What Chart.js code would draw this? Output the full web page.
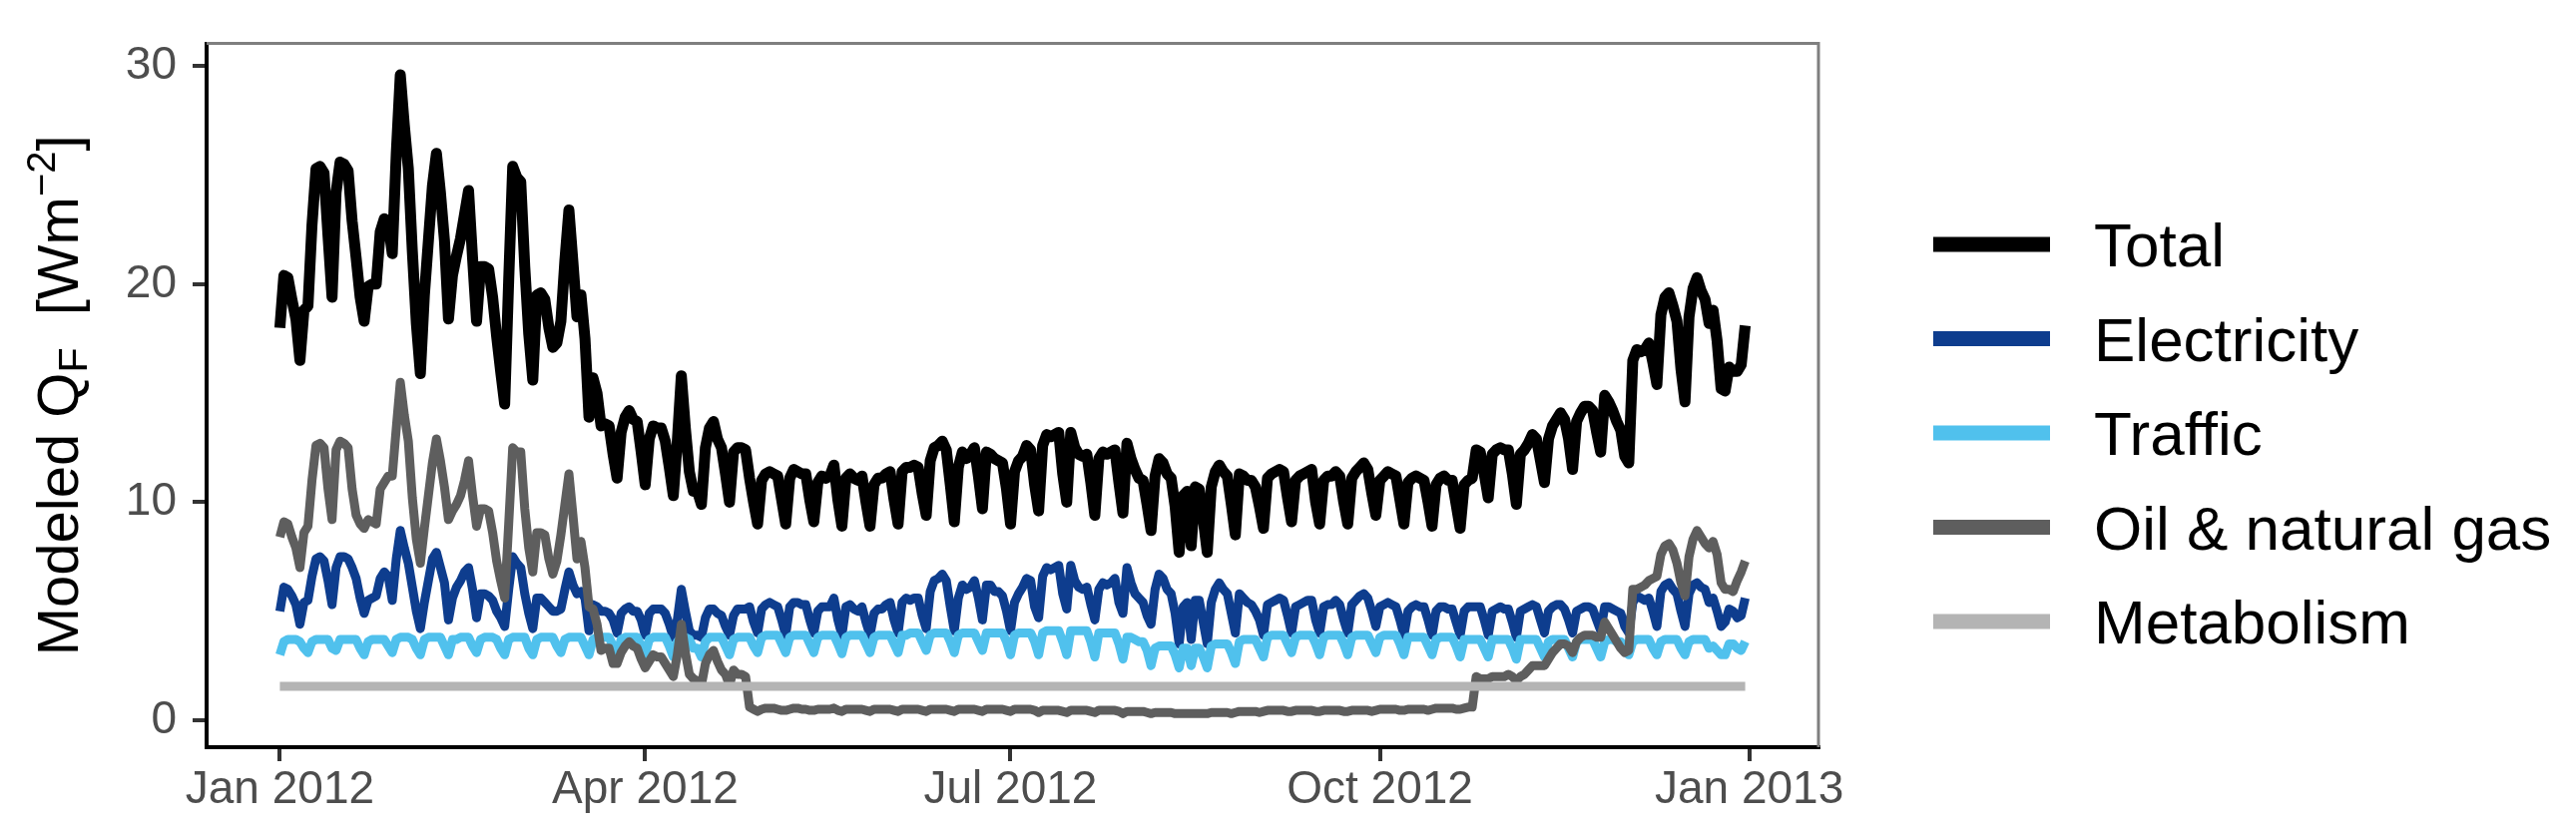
<!DOCTYPE html>
<html>
<head>
<meta charset="utf-8">
<script src="https://cdn.jsdelivr.net/npm/chart.js@4.4.1/dist/chart.umd.min.js"></script>
<style>
  html, body { margin: 0; padding: 0; background: #fff; }
  #wrap { width: 2581px; height: 833px; }
</style>
</head>
<body>
<div id="wrap"><canvas id="qf" width="2581" height="833"></canvas></div>
<script>
// modeled anthropogenic heat flux, one value per day from Sun 1 Jan 2012 (day 0) to Mon 31 Dec 2012 (day 365)
const total = [
  18.0, 20.4, 20.3, 19.3, 18.4, 16.5, 18.8,
  19.0, 22.7, 25.3, 25.4, 25.1, 22.2, 19.4,
  24.2, 25.6, 25.5, 25.2, 22.9, 21.2, 19.4,
  18.3, 19.9, 20.0, 20.0, 22.4, 23.0, 22.8,
  21.4, 26.0, 29.6, 27.3, 25.3, 21.5, 18.2,
  15.9, 19.5, 22.0, 24.5, 26.0, 24.2, 22.0,
  18.4, 20.4, 21.3, 22.1, 23.2, 24.3, 21.2,
  18.3, 20.8, 20.8, 20.7, 19.4, 17.6, 16.0,
  14.5, 20.2, 25.4, 24.9, 24.7, 20.8, 17.7,
  15.6, 19.5, 19.6, 19.3, 18.0, 17.1, 17.3,
  18.3, 21.1, 23.4, 21.0, 18.5, 19.5, 17.5,
  13.9, 15.7, 15.0, 13.5, 13.6, 13.5, 12.2,
  11.1, 13.2, 13.9, 14.2, 13.8, 13.7, 12.3,
  10.8, 12.9, 13.5, 13.4, 13.4, 12.8, 11.6,
  10.3, 12.8, 15.8, 13.4, 11.4, 10.5, 10.5,
  9.9, 12.5, 13.4, 13.7, 12.9, 12.5, 11.3,
  10.0, 12.3, 12.5, 12.5, 12.4, 11.1, 10.0,
  9.0, 11.0, 11.3, 11.4, 11.3, 11.2, 10.1,
  9.0, 11.1, 11.5, 11.4, 11.3, 11.3, 10.1,
  9.1, 10.9, 11.2, 11.1, 11.2, 11.7, 10.1,
  8.9, 11.1, 11.3, 11.1, 11.0, 11.2, 10.0,
  8.9, 10.8, 11.1, 11.1, 11.3, 11.4, 10.1,
  9.0, 11.4, 11.6, 11.6, 11.7, 11.6, 10.4,
  9.4, 11.9, 12.5, 12.6, 12.8, 12.4, 10.8,
  9.1, 11.6, 12.3, 12.0, 12.2, 12.5, 11.2,
  9.7, 12.3, 12.2, 12.0, 11.9, 11.8, 10.6,
  9.0, 11.4, 11.9, 12.1, 12.6, 12.4, 10.8,
  9.6, 12.6, 13.1, 13.0, 13.1, 13.2, 11.3,
  10.0, 13.2, 12.5, 12.2, 12.1, 12.2, 10.9,
  9.4, 12.0, 12.3, 12.2, 12.3, 12.4, 10.9,
  9.5, 12.7, 12.0, 11.5, 11.1, 11.0, 9.9,
  8.7, 11.2, 12.0, 11.8, 11.3, 11.1, 9.8,
  7.7, 10.3, 10.5, 8.0, 10.7, 10.6, 9.2,
  7.7, 10.7, 11.4, 11.7, 11.4, 11.2, 9.9,
  8.5, 11.3, 11.2, 11.0, 11.0, 10.7, 9.8,
  8.8, 11.1, 11.3, 11.4, 11.5, 11.4, 10.2,
  9.1, 11.0, 11.2, 11.3, 11.4, 11.5, 10.0,
  9.0, 11.0, 11.2, 11.2, 11.4, 11.2, 10.0,
  9.0, 11.1, 11.4, 11.6, 11.8, 11.5, 10.4,
  9.4, 11.0, 11.2, 11.4, 11.3, 11.2, 10.1,
  9.0, 10.9, 11.1, 11.2, 11.1, 11.0, 10.0,
  8.9, 10.8, 11.1, 11.2, 11.0, 11.0, 9.9,
  8.8, 10.8, 11.0, 11.1, 12.4, 12.3, 11.3,
  10.2, 12.2, 12.4, 12.5, 12.4, 12.4, 11.3,
  9.9, 12.2, 12.4, 12.7, 13.1, 12.9, 11.9,
  10.9, 12.9, 13.5, 13.8, 14.1, 13.8, 12.9,
  11.5, 13.7, 14.1, 14.4, 14.4, 14.2, 13.2,
  12.3, 14.9, 14.6, 14.2, 13.7, 13.3, 12.1,
  11.8, 16.5, 17.0, 16.9, 17.0, 17.3, 16.4,
  15.4, 18.6, 19.4, 19.6, 19.0, 18.3, 16.1,
  14.6, 18.5, 19.8, 20.3, 19.7, 19.3, 18.2,
  18.8, 17.4, 15.2, 15.1, 16.2, 16.0, 16.0,
  16.3, 18.1
];

const electricity = [
  5.0, 6.1, 6.0, 5.7, 5.3, 4.4, 5.4,
  5.5, 6.6, 7.4, 7.5, 7.3, 6.4, 5.3,
  7.0, 7.5, 7.5, 7.4, 7.0, 6.5, 5.6,
  4.9, 5.5, 5.6, 5.7, 6.5, 6.8, 6.6,
  5.5, 7.4, 8.7, 7.9, 7.2, 6.1, 5.0,
  4.2, 5.4, 6.4, 7.4, 7.7, 7.0, 6.3,
  4.6, 5.6, 6.1, 6.4, 6.8, 7.0, 6.0,
  4.7, 5.8, 5.8, 5.7, 5.5, 5.0, 4.7,
  4.3, 6.0, 7.5, 7.2, 7.0, 5.8, 4.9,
  4.2, 5.6, 5.6, 5.4, 5.2, 5.0, 5.0,
  5.1, 6.0, 6.8, 6.2, 5.8, 5.9, 5.6,
  4.1, 5.3, 5.2, 5.0, 5.0, 4.9, 4.6,
  4.0, 4.9, 5.1, 5.2, 5.0, 5.0, 4.6,
  3.9, 4.9, 5.1, 5.1, 5.1, 4.9, 4.4,
  3.8, 4.6, 6.0, 5.0, 4.1, 3.9, 3.9,
  3.8, 4.7, 5.1, 5.1, 4.9, 4.8, 4.3,
  3.9, 4.8, 5.1, 5.1, 5.1, 5.2, 4.5,
  4.0, 5.1, 5.3, 5.4, 5.3, 5.2, 4.6,
  3.9, 5.2, 5.4, 5.4, 5.3, 5.3, 4.6,
  4.0, 5.0, 5.2, 5.2, 5.2, 5.6, 4.6,
  3.9, 5.2, 5.3, 5.1, 5.0, 5.2, 4.5,
  3.9, 4.9, 5.1, 5.1, 5.3, 5.4, 4.6,
  4.0, 5.4, 5.6, 5.5, 5.6, 5.6, 4.8,
  4.2, 5.9, 6.4, 6.5, 6.7, 6.4, 5.2,
  4.1, 5.6, 6.2, 6.0, 6.1, 6.4, 5.6,
  4.6, 6.2, 6.2, 5.9, 5.9, 5.7, 5.0,
  4.1, 5.4, 5.8, 6.1, 6.5, 6.4, 5.2,
  4.7, 6.6, 7.0, 6.9, 7.0, 7.1, 5.8,
  5.1, 7.1, 6.4, 6.1, 6.0, 6.1, 5.3,
  4.6, 6.0, 6.3, 6.2, 6.3, 6.5, 5.4,
  4.9, 7.0, 6.3, 5.8, 5.6, 5.4, 4.8,
  4.4, 6.0, 6.7, 6.5, 6.0, 5.8, 4.9,
  3.5, 5.2, 5.4, 3.7, 5.5, 5.5, 4.5,
  3.5, 5.4, 6.0, 6.3, 6.0, 5.8, 4.9,
  4.0, 5.8, 5.6, 5.4, 5.3, 5.0, 4.6,
  3.9, 5.3, 5.4, 5.5, 5.6, 5.5, 4.8,
  4.0, 5.2, 5.3, 5.4, 5.5, 5.5, 4.6,
  4.0, 5.2, 5.3, 5.3, 5.5, 5.3, 4.6,
  4.0, 5.3, 5.5, 5.7, 5.8, 5.6, 5.0,
  4.3, 5.2, 5.3, 5.4, 5.3, 5.2, 4.6,
  3.9, 5.0, 5.2, 5.3, 5.2, 5.2, 4.6,
  3.9, 5.0, 5.2, 5.2, 5.1, 5.1, 4.5,
  3.9, 5.0, 5.2, 5.2, 5.2, 5.2, 4.6,
  3.9, 5.0, 5.1, 5.2, 5.1, 5.1, 4.5,
  3.8, 5.0, 5.1, 5.2, 5.3, 5.2, 4.6,
  4.0, 5.0, 5.2, 5.3, 5.3, 5.1, 4.6,
  4.0, 5.0, 5.1, 5.2, 5.2, 5.1, 4.6,
  4.1, 5.2, 5.2, 5.1, 5.0, 4.9, 4.3,
  4.0, 5.4, 5.7, 5.6, 5.5, 5.6, 5.0,
  4.3, 5.9, 6.2, 6.3, 6.0, 5.8, 5.0,
  4.3, 5.8, 6.2, 6.3, 6.1, 6.0, 5.4,
  5.6, 5.0, 4.3, 4.5, 5.1, 5.0, 4.7,
  4.8, 5.6
];

const traffic = [
  3.0, 3.6, 3.7, 3.7, 3.7, 3.6, 3.3,
  3.1, 3.6, 3.7, 3.7, 3.7, 3.7, 3.3,
  3.2, 3.7, 3.7, 3.7, 3.7, 3.7, 3.3,
  3.0, 3.6, 3.7, 3.7, 3.7, 3.7, 3.4,
  3.1, 3.7, 3.8, 3.8, 3.8, 3.7, 3.3,
  3.0, 3.7, 3.8, 3.8, 3.8, 3.8, 3.4,
  3.0, 3.7, 3.7, 3.8, 3.8, 3.8, 3.4,
  3.1, 3.7, 3.8, 3.8, 3.8, 3.7, 3.3,
  3.0, 3.7, 3.8, 3.8, 3.8, 3.8, 3.3,
  3.0, 3.7, 3.8, 3.8, 3.8, 3.8, 3.4,
  3.1, 3.7, 3.8, 3.8, 3.8, 3.8, 3.4,
  3.0, 3.7, 3.8, 3.8, 3.8, 3.8, 3.4,
  3.0, 3.7, 3.8, 3.8, 3.8, 3.8, 3.4,
  3.0, 3.7, 3.8, 3.8, 3.8, 3.8, 3.4,
  2.9, 3.6, 3.8, 3.8, 3.7, 3.3, 3.3,
  2.9, 3.6, 3.8, 3.8, 3.8, 3.8, 3.4,
  3.0, 3.7, 3.8, 3.8, 3.8, 3.8, 3.4,
  3.1, 3.8, 3.9, 3.9, 3.9, 3.9, 3.5,
  3.1, 3.8, 3.9, 3.9, 3.9, 3.9, 3.5,
  3.1, 3.8, 3.9, 3.9, 3.9, 3.9, 3.5,
  3.05, 3.8, 3.9, 3.9, 3.9, 3.9, 3.5,
  3.1, 3.8, 3.9, 3.9, 3.9, 3.9, 3.5,
  3.1, 3.9, 3.9, 4.0, 4.0, 4.0, 3.6,
  3.2, 3.9, 4.0, 4.0, 4.0, 4.0, 3.6,
  3.1, 3.9, 4.0, 4.0, 4.0, 4.0, 3.6,
  3.2, 4.0, 4.0, 4.0, 4.0, 4.0, 3.6,
  3.0, 3.9, 4.0, 4.0, 4.0, 4.0, 3.6,
  3.0, 4.0, 4.1, 4.1, 4.1, 4.1, 3.6,
  3.0, 4.1, 4.1, 4.1, 4.1, 4.1, 3.6,
  2.9, 4.0, 4.0, 4.0, 4.0, 4.0, 3.5,
  2.8, 3.8, 3.8, 3.7, 3.6, 3.6, 3.2,
  2.5, 3.3, 3.4, 3.4, 3.4, 3.4, 3.0,
  2.4, 3.3, 3.3, 2.5, 3.3, 3.3, 2.9,
  2.4, 3.4, 3.5, 3.5, 3.5, 3.5, 3.1,
  2.6, 3.6, 3.7, 3.7, 3.7, 3.7, 3.3,
  2.9, 3.8, 3.9, 3.9, 3.9, 3.9, 3.5,
  3.1, 3.8, 3.9, 3.9, 3.9, 3.9, 3.5,
  3.0, 3.8, 3.9, 3.9, 3.9, 3.9, 3.5,
  3.0, 3.8, 3.9, 3.9, 3.9, 3.9, 3.5,
  3.1, 3.8, 3.9, 3.9, 3.9, 3.9, 3.5,
  3.0, 3.8, 3.8, 3.8, 3.8, 3.8, 3.4,
  3.0, 3.7, 3.8, 3.8, 3.8, 3.8, 3.4,
  2.9, 3.7, 3.7, 3.7, 3.7, 3.7, 3.3,
  2.9, 3.7, 3.7, 3.7, 3.7, 3.7, 3.3,
  2.8, 3.7, 3.7, 3.7, 3.7, 3.7, 3.3,
  2.9, 3.6, 3.7, 3.7, 3.7, 3.7, 3.3,
  2.9, 3.6, 3.7, 3.7, 3.7, 3.7, 3.3,
  2.9, 3.6, 3.7, 3.7, 3.6, 3.6, 3.2,
  3.0, 3.6, 3.7, 3.7, 3.7, 3.7, 3.3,
  3.0, 3.6, 3.7, 3.7, 3.7, 3.7, 3.3,
  3.0, 3.6, 3.7, 3.7, 3.7, 3.7, 3.3,
  3.4, 3.2, 3.0, 3.0, 3.5, 3.5, 3.3,
  3.2, 3.6
];

const oilGas = [
  8.4, 9.1, 9.0, 8.4, 7.9, 7.0, 8.6,
  8.9, 11.0, 12.6, 12.7, 12.5, 10.6, 9.2,
  12.4, 12.8, 12.7, 12.5, 10.6, 9.4, 9.0,
  8.8, 9.2, 9.1, 9.0, 10.6, 10.9, 11.2,
  11.2, 13.4, 15.5, 14.0, 12.8, 10.2, 8.3,
  7.2, 8.8, 10.3, 11.8, 12.9, 11.9, 10.7,
  9.2, 9.6, 9.9, 10.3, 11.0, 11.9, 10.3,
  8.9, 9.7, 9.7, 9.6, 8.6, 7.3, 6.4,
  5.6, 9.0, 12.5, 12.3, 12.3, 9.7, 7.9,
  6.8, 8.6, 8.6, 8.5, 7.4, 6.7, 7.3,
  8.5, 9.9, 11.3, 9.4, 7.4, 8.2, 7.0,
  5.2, 5.1, 4.4, 3.2, 3.3, 3.3, 2.6,
  2.6, 3.1, 3.4, 3.6, 3.4, 3.3, 2.8,
  2.4, 2.7, 3.0, 2.9, 2.9, 2.6, 2.3,
  2.0, 3.0, 4.4, 3.1, 2.1, 1.9, 1.8,
  1.6, 2.6, 3.0, 3.2, 2.7, 2.3, 2.1,
  1.6, 2.3, 2.1, 2.1, 2.0, 0.6, 0.5,
  0.4, 0.5, 0.55, 0.55, 0.55, 0.5, 0.45,
  0.45, 0.5, 0.55, 0.55, 0.5, 0.5, 0.45,
  0.45, 0.5, 0.5, 0.5, 0.5, 0.55, 0.45,
  0.4, 0.5, 0.5, 0.5, 0.5, 0.5, 0.45,
  0.4, 0.5, 0.5, 0.5, 0.5, 0.5, 0.45,
  0.4, 0.5, 0.5, 0.5, 0.5, 0.5, 0.45,
  0.4, 0.5, 0.5, 0.5, 0.5, 0.5, 0.45,
  0.4, 0.5, 0.5, 0.5, 0.5, 0.5, 0.45,
  0.4, 0.5, 0.5, 0.5, 0.5, 0.5, 0.45,
  0.4, 0.5, 0.5, 0.5, 0.5, 0.5, 0.45,
  0.35, 0.45, 0.45, 0.45, 0.45, 0.45, 0.4,
  0.35, 0.45, 0.45, 0.45, 0.45, 0.45, 0.4,
  0.35, 0.45, 0.45, 0.45, 0.45, 0.45, 0.4,
  0.3, 0.4, 0.4, 0.4, 0.4, 0.4, 0.35,
  0.3, 0.35, 0.35, 0.35, 0.35, 0.35, 0.3,
  0.3, 0.3, 0.3, 0.3, 0.3, 0.3, 0.3,
  0.3, 0.35, 0.35, 0.35, 0.35, 0.35, 0.3,
  0.35, 0.4, 0.4, 0.4, 0.4, 0.4, 0.35,
  0.4, 0.45, 0.45, 0.45, 0.45, 0.45, 0.4,
  0.4, 0.45, 0.45, 0.45, 0.45, 0.45, 0.4,
  0.4, 0.45, 0.45, 0.45, 0.45, 0.45, 0.4,
  0.4, 0.45, 0.45, 0.45, 0.45, 0.45, 0.4,
  0.45, 0.5, 0.5, 0.5, 0.5, 0.5, 0.45,
  0.45, 0.5, 0.5, 0.5, 0.5, 0.5, 0.45,
  0.5, 0.55, 0.55, 0.55, 0.55, 0.55, 0.5,
  0.5, 0.55, 0.6, 0.6, 2.0, 1.9, 1.9,
  1.9, 2.0, 2.0, 2.0, 2.0, 2.1, 2.0,
  1.8, 2.0, 2.1, 2.3, 2.5, 2.5, 2.5,
  2.5, 2.8, 3.1, 3.3, 3.5, 3.5, 3.4,
  3.1, 3.6, 3.8, 3.9, 3.9, 3.9, 3.8,
  3.8, 4.5, 4.2, 3.9, 3.6, 3.3, 3.1,
  3.2, 6.0, 6.0, 6.1, 6.2, 6.4, 6.5,
  6.6, 7.6, 8.0, 8.1, 7.8, 7.2, 6.3,
  5.7, 7.5, 8.3, 8.7, 8.4, 8.1, 7.9,
  8.2, 7.6, 6.3, 6.0, 6.0, 5.9, 6.4,
  6.8, 7.3
];

// metabolism is flat over the whole year
const metabolismDays = [0, 365];
const metabolism = [1.55, 1.55];

const seriesNames = ['Total', 'Electricity', 'Traffic', 'Oil & natural gas', 'Metabolism'];
const xTickDays = [0, 91, 182, 274, 366];
const xTickLabels = ['Jan 2012', 'Apr 2012', 'Jul 2012', 'Oct 2012', 'Jan 2013'];
const yTicks = [0, 10, 20, 30];

const FONT = '"Liberation Sans", Arial, Helvetica, sans-serif';
const colors = ['#000000', '#0e3d8e', '#50c1ed', '#5e5e5e', '#b4b4b4'];
const widths = [11, 9, 9, 9, 9];

const daily = arr => arr.map((v, i) => ({ x: i, y: v }));

// y title with subscript and superscript: Modeled Q_F  [Wm^-2]
const yTitle = {
  id: 'yTitle',
  afterDraw(chart) {
    const { ctx, chartArea } = chart;
    const parts = [
      { t: 'Modeled Q', s: 58, dy: 0 },
      { t: 'F', s: 41, dy: 9 },
      { t: '  [Wm', s: 58, dy: 0 },
      { t: '\u22122', s: 40, dy: -23 },
      { t: ']', s: 58, dy: 0 }
    ];
    ctx.save();
    let w = 0;
    parts.forEach(p => { ctx.font = p.s + 'px ' + FONT; p.w = ctx.measureText(p.t).width; w += p.w; });
    ctx.translate(78, (chartArea.top + chartArea.bottom) / 2);
    ctx.rotate(-Math.PI / 2);
    ctx.fillStyle = '#000';
    ctx.textBaseline = 'alphabetic';
    let x = -w / 2;
    parts.forEach(p => {
      ctx.font = p.s + 'px ' + FONT;
      ctx.fillText(p.t, x, p.dy);
      x += p.w;
    });
    ctx.restore();
  }
};

// grey panel border on top and right side
const panelBorder = {
  id: 'panelBorder',
  beforeDatasetsDraw(chart) {
    const { ctx, chartArea: a } = chart;
    ctx.save();
    ctx.strokeStyle = '#7f7f7f';
    ctx.lineWidth = 3;
    ctx.beginPath();
    ctx.moveTo(a.left, a.top);
    ctx.lineTo(a.right, a.top);
    ctx.lineTo(a.right, a.bottom);
    ctx.stroke();
    ctx.restore();
  }
};

// legend to the right, ggplot style keys
const keyLegend = {
  id: 'keyLegend',
  afterDraw(chart) {
    const { ctx, chartArea } = chart;
    const x0 = chartArea.right + 115;
    ctx.save();
    ctx.font = '62px ' + FONT;
    ctx.textBaseline = 'alphabetic';
    chart.data.datasets.forEach((ds, i) => {
      const y = 245 + i * 94.5;
      ctx.fillStyle = ds.borderColor;
      ctx.fillRect(x0, y - 7.5, 117, 15);
      ctx.fillStyle = '#000';
      ctx.fillText(ds.label, x0 + 161, y + 22);
    });
    ctx.restore();
  }
};

const axisGrid = { drawOnChartArea: false, drawTicks: true, tickLength: 14, color: '#333333', lineWidth: 4 };
const axisBorder = { display: true, color: '#000000', width: 4 };
const tickFont = { family: FONT, size: 46 };

new Chart(document.getElementById('qf'), {
  type: 'line',
  data: {
    datasets: [
      { label: seriesNames[0], data: daily(total), order: 5 },
      { label: seriesNames[1], data: daily(electricity), order: 4 },
      { label: seriesNames[2], data: daily(traffic), order: 3 },
      { label: seriesNames[3], data: daily(oilGas), order: 2 },
      { label: seriesNames[4], data: metabolismDays.map((d, i) => ({ x: d, y: metabolism[i] })), order: 1 }
    ].map((ds, i) => Object.assign(ds, {
      borderColor: colors[i],
      backgroundColor: colors[i],
      borderWidth: widths[i],
      pointRadius: 0,
      tension: 0,
      fill: false,
      borderJoinStyle: 'round',
      borderCapStyle: 'butt'
    }))
  },
  options: {
    responsive: false,
    animation: false,
    devicePixelRatio: 1,
    parsing: false,
    layout: { padding: { left: 0, top: 26, right: 759, bottom: 0 } },
    plugins: { legend: { display: false }, tooltip: { enabled: false } },
    scales: {
      x: {
        type: 'linear',
        min: -18.25,
        max: 383.25,
        afterBuildTicks: s => { s.ticks = xTickDays.map(v => ({ value: v })); },
        afterFit: s => { s.height = 84; },
        grid: axisGrid,
        border: axisBorder,
        ticks: {
          autoSkip: false, maxRotation: 0, padding: 2, color: '#4d4d4d', font: tickFont,
          callback: v => xTickLabels[xTickDays.indexOf(v)]
        }
      },
      y: {
        type: 'linear',
        min: -1.24,
        max: 31.04,
        afterBuildTicks: s => { s.ticks = yTicks.map(v => ({ value: v })); },
        afterFit: s => { s.width = 207; },
        grid: axisGrid,
        border: axisBorder,
        ticks: { padding: 16, color: '#4d4d4d', font: tickFont, callback: v => String(v) }
      }
    }
  },
  plugins: [panelBorder, yTitle, keyLegend]
});
</script>
</body>
</html>
